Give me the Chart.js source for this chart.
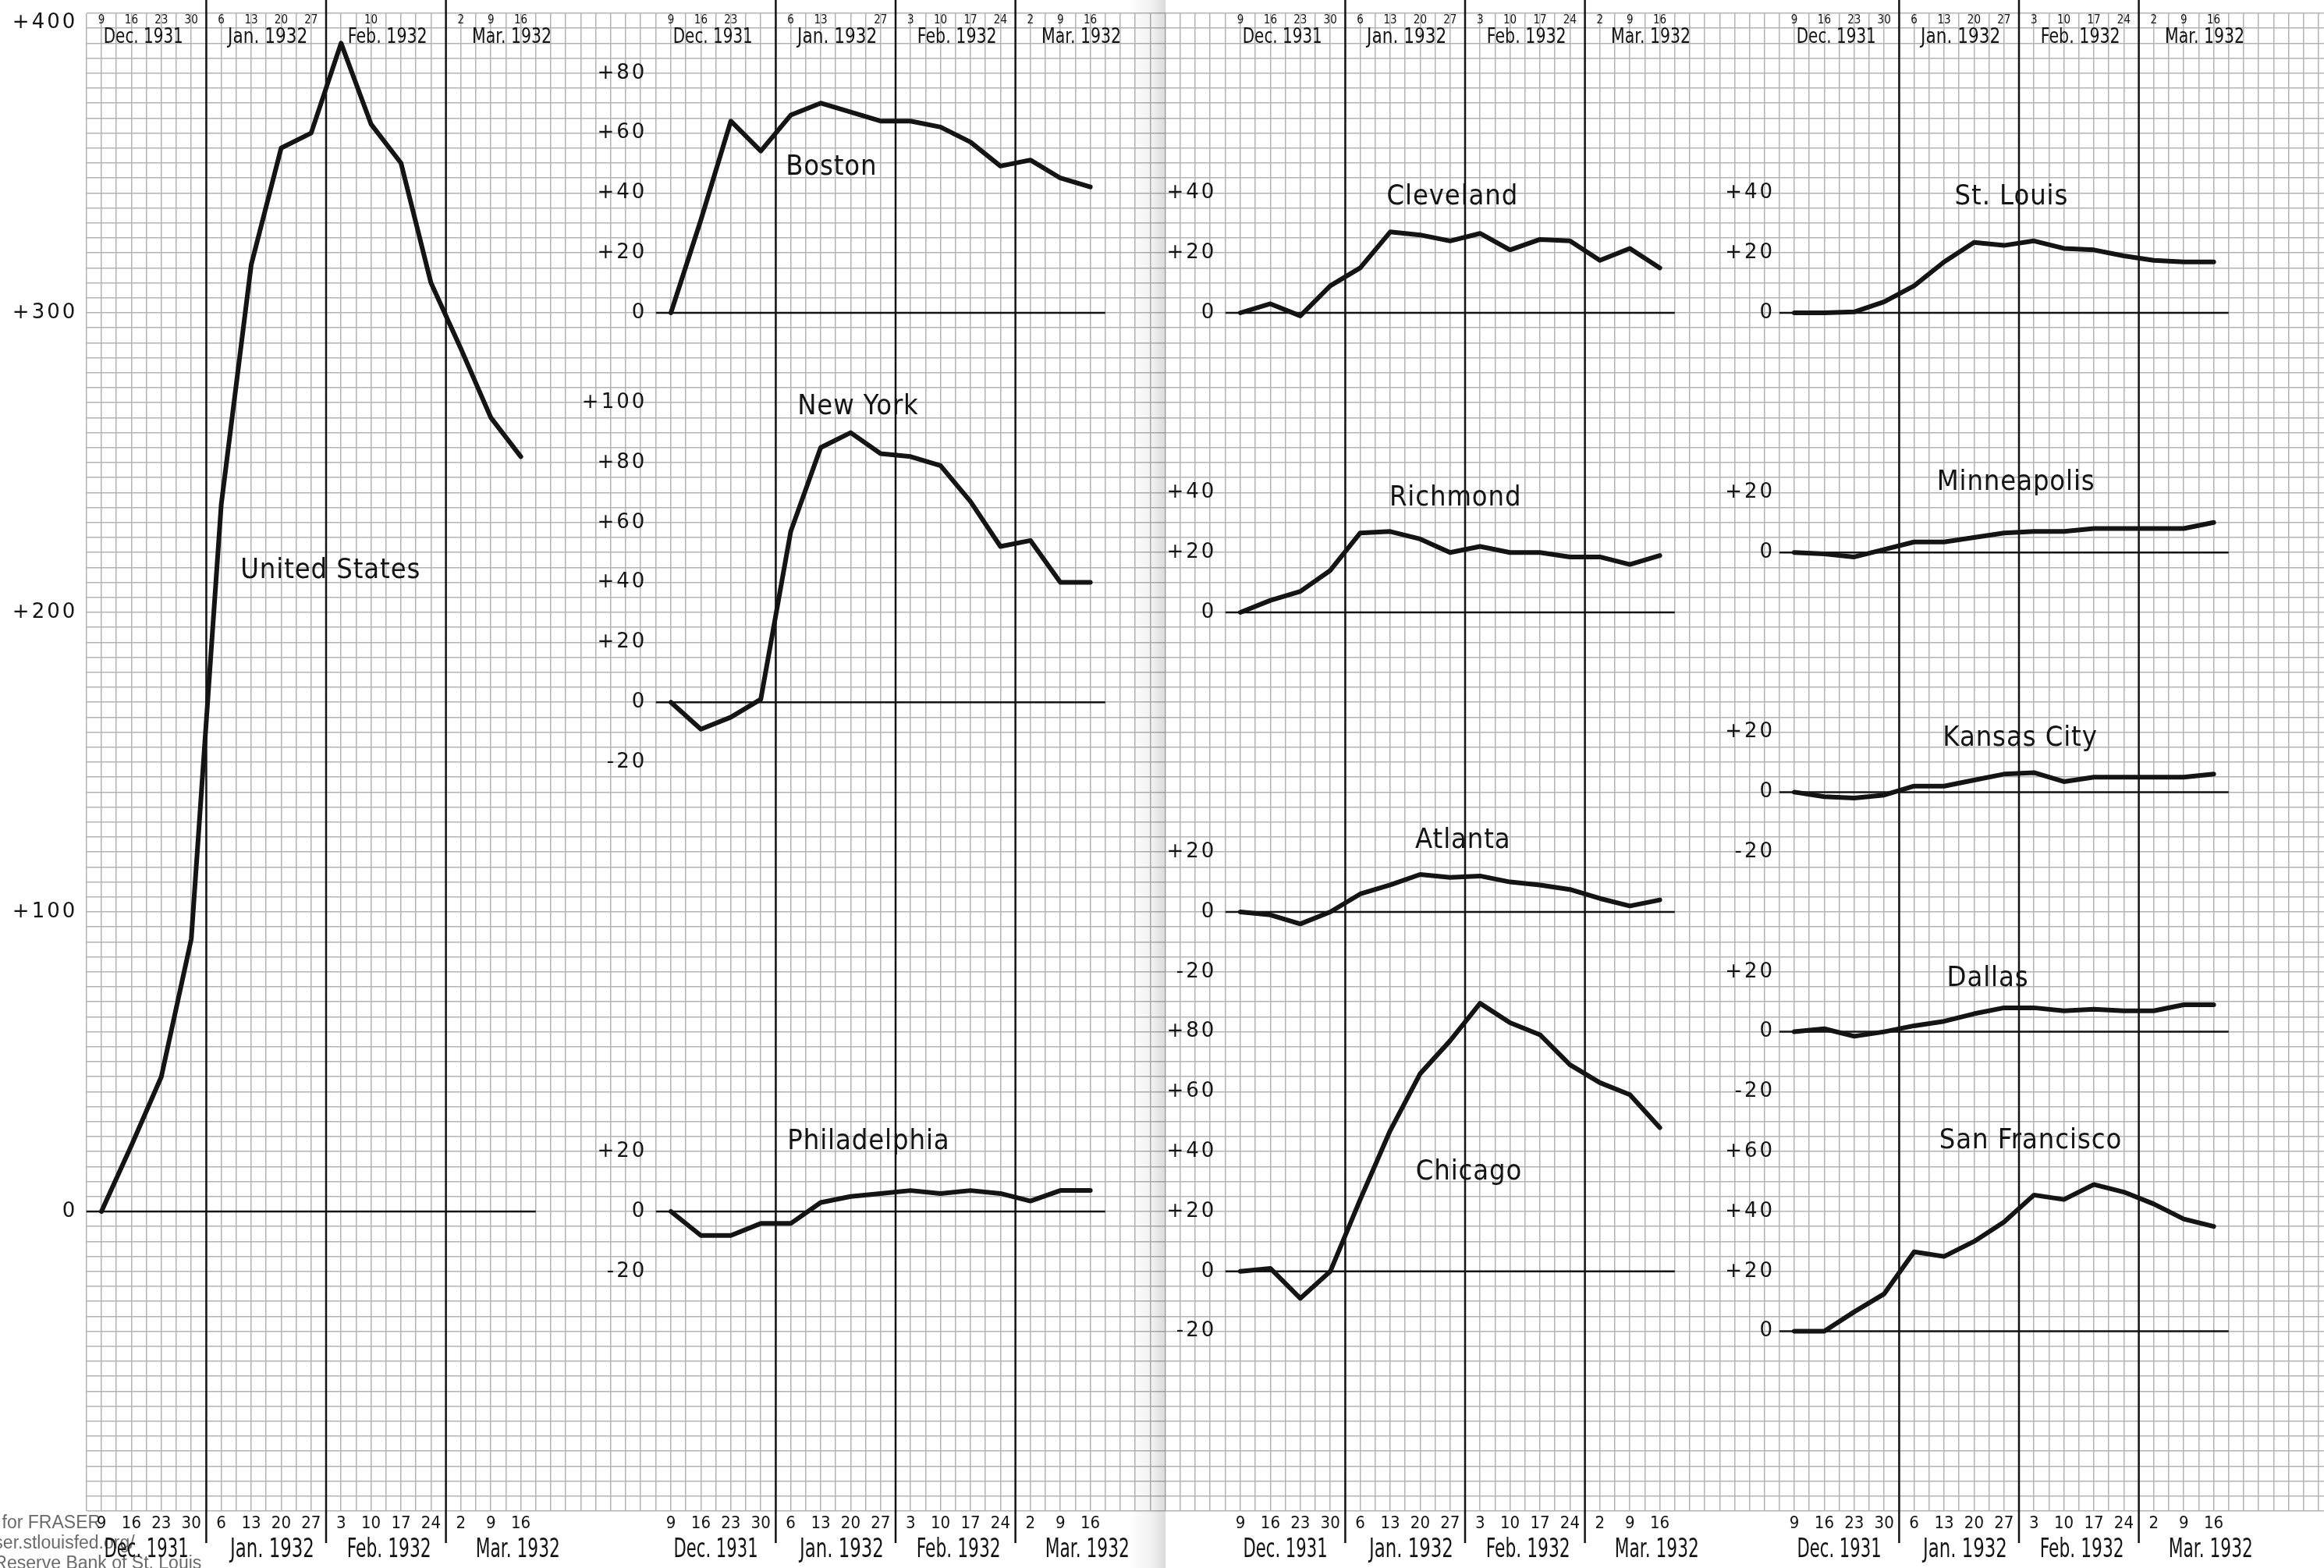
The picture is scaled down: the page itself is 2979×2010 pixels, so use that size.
<!DOCTYPE html>
<html>
<head>
<meta charset="utf-8">
<title>Weekly changes by Federal Reserve district, Dec. 1931 - Mar. 1932</title>
<script src="https://cdn.jsdelivr.net/npm/chart.js@4.4.1/dist/chart.umd.min.js"></script>
<style>
  body { margin: 0; background: #fff; }
  #page { position: relative; width: 2979px; height: 2010px; background: #fff; overflow: hidden; }
  #page canvas { position: absolute; left: 0; top: 0; }
  #fold { position: absolute; left: 1448px; top: 0; width: 46px; height: 2010px; pointer-events: none;
          background: linear-gradient(90deg, rgba(0,0,0,0) 0%, rgba(0,0,0,0.06) 65%, rgba(0,0,0,0.14) 100%); }
</style>
</head>
<body>
<div id="page">
  <canvas id="c1" width="2979" height="2010"></canvas>
  <canvas id="c2" width="2979" height="2010"></canvas>
  <canvas id="c3" width="2979" height="2010"></canvas>
  <canvas id="c4" width="2979" height="2010"></canvas>
  <div id="fold"></div>
</div>
<script>
// ---- data (change from Dec. 9, 1931) ----
const weeks = ['9', '16', '23', '30', '6', '13', '20', '27', '3', '10', '17', '24', '2', '9', '16'];
const months = ['Dec. 1931', 'Jan. 1932', 'Feb. 1932', 'Mar. 1932'];

// the top week rows were only partly lettered on the first two sheets
const topWeeksUS = ['9', '16', '23', '30', '6', '13', '20', '27', '', '10', '', '', '2', '9', '16'];
const topWeeksEast = ['9', '16', '23', '', '6', '13', '', '27', '3', '10', '17', '24', '2', '9', '16'];

const unitedStates = [0, 22, 45, 91, 236, 316, 355, 360, 390, 363, 350, 310, 288, 265, 252];
const boston = [0, 31, 64, 54, 66, 70, 67, 64, 64, 62, 57, 49, 51, 45, 42];
const newYork = [0, -9, -5, 1, 57, 85, 90, 83, 82, 79, 67, 52, 54, 40, 40];
const philadelphia = [0, -8, -8, -4, -4, 3, 5, 6, 7, 6, 7, 6, 3.5, 7, 7];
const cleveland = [0, 3, -1, 9, 15, 27, 26, 24, 26.5, 21, 24.5, 24, 17.5, 21.5, 15];
const richmond = [0, 4, 7, 14, 26.5, 27, 24.5, 20, 22, 20, 20, 18.5, 18.5, 16, 19];
const atlanta = [0, -1, -4, 0, 6, 9, 12.5, 11.5, 12, 10, 9, 7.5, 4.5, 2, 4];
const chicago = [0, 1, -9, 0, 24, 47, 66, 77, 89.5, 83, 79, 69, 63, 59, 48];
const stLouis = [0, 0, 0.3, 3.7, 9, 17, 23.5, 22.5, 24, 21.5, 21, 19, 17.5, 17, 17];
const minneapolis = [0, -0.5, -1.5, 1, 3.5, 3.5, 5, 6.5, 7, 7, 8, 8, 8, 8, 10];
const kansasCity = [0, -1.5, -2, -1, 2, 2, 4, 6, 6.5, 3.5, 5, 5, 5, 5, 6];
const dallas = [0, 1, -1.5, 0, 2, 3.5, 6, 8, 8, 7, 7.5, 7, 7, 9, 9];
const sanFrancisco = [0, 0, 6.5, 12.5, 26.5, 25, 30, 36.5, 45.5, 44, 49, 46.5, 42.5, 37.5, 35];

// tick labels lettered beside each panel
const usTicks = [400, 300, 200, 100, 0];
const bostonTicks = [80, 60, 40, 20, 0];
const newYorkTicks = [100, 80, 60, 40, 20, 0, -20];
const philadelphiaTicks = [20, 0, -20];
const clevelandTicks = [40, 20, 0];
const richmondTicks = [40, 20, 0];
const atlantaTicks = [20, 0, -20];
const chicagoTicks = [80, 60, 40, 20, 0, -20];
const stLouisTicks = [40, 20, 0];
const minneapolisTicks = [20, 0];
const kansasCityTicks = [20, 0, -20];
const dallasTicks = [20, 0, -20];
const sanFranciscoTicks = [60, 40, 20, 0];

// ---- sheet layout ----
const PAGE_W = 2979, PAGE_H = 2010;
const WEEK = 38.4;              // px per week (two squares)
const GRID_TOP = 17, ROWS = 100, ROW = 19.2;
const GRID_BOTTOM = GRID_TOP + ROWS * ROW;
const UNITS_PER_ROW = 5;
const SPAN = ROWS * UNITS_PER_ROW;
const INK = '#141414';
const PAPER_LINE = '#b3b3b3';
const FONT = '"DejaVu Sans", "Noto Sans", sans-serif';
const monthBreaks = [3.5, 7.5, 11.5];
const topMonthAt = [1.4, 5.55, 9.55, 13.7];
const bottomMonthAt = [1.5, 5.7, 9.6, 13.9];
const ZERO_FROM = -0.5, ZERO_TO = 14.5;

const columns = [
  { canvas: 'c1', week0: 130, xMin: -0.5, xMax: 18.51, tickAt: -0.8, topWeeks: topWeeksUS, credit: true,
    panels: [
      { title: 'United States', data: unitedStates, ticks: usTicks, zeroRow: 80, titleAt: [7.65, 214] }
    ] },
  { canvas: 'c2', week0: 860, xMin: -0.49, xMax: 18.51, tickAt: -0.8, topWeeks: topWeeksEast,
    panels: [
      { title: 'Boston', data: boston, ticks: bostonTicks, zeroRow: 20, titleAt: [5.36, 48.6] },
      { title: 'New York', data: newYork, ticks: newYorkTicks, zeroRow: 46, titleAt: [6.25, 98.7] },
      { title: 'Philadelphia', data: philadelphia, ticks: philadelphiaTicks, zeroRow: 80, titleAt: [6.6, 23.3] }
    ] },
  { canvas: 'c3', week0: 1590, xMin: -0.49, xMax: 17.51, tickAt: -0.8, topWeeks: weeks,
    panels: [
      { title: 'Cleveland', data: cleveland, ticks: clevelandTicks, zeroRow: 20, titleAt: [7.08, 38.7] },
      { title: 'Richmond', data: richmond, ticks: richmondTicks, zeroRow: 40, titleAt: [7.18, 38.2] },
      { title: 'Atlanta', data: atlanta, ticks: atlantaTicks, zeroRow: 60, titleAt: [7.43, 23.8] },
      { title: 'Chicago', data: chicago, ticks: chicagoTicks, zeroRow: 84, titleAt: [7.63, 33.2] }
    ] },
  { canvas: 'c4', week0: 2300, xMin: -0.99, xMax: 17.68, tickAt: -0.65, topWeeks: weeks,
    panels: [
      { title: 'St. Louis', data: stLouis, ticks: stLouisTicks, zeroRow: 20, titleAt: [7.25, 38.7] },
      { title: 'Minneapolis', data: minneapolis, ticks: minneapolisTicks, zeroRow: 36, titleAt: [7.4, 23.3] },
      { title: 'Kansas City', data: kansasCity, ticks: kansasCityTicks, zeroRow: 52, titleAt: [7.54, 17.8] },
      { title: 'Dallas', data: dallas, ticks: dallasTicks, zeroRow: 68, titleAt: [6.46, 17.8] },
      { title: 'San Francisco', data: sanFrancisco, ticks: sanFranciscoTicks, zeroRow: 88, titleAt: [7.89, 63.5] }
    ] }
];

// draw text, optionally squeezed to a width (hand lettering is tall and narrow)
function letter(ctx, text, x, y, o) {
  if (!text) return;
  ctx.save();
  ctx.font = o.font;
  ctx.fillStyle = o.color || INK;
  ctx.textBaseline = 'middle';
  ctx.textAlign = 'left';
  ctx.letterSpacing = (o.spacing || 0) + 'px';
  const w = ctx.measureText(text).width;
  const sx = o.width ? o.width / w : (o.scaleX || 1);
  const drawn = w * sx;
  let left = x;
  if (o.align === 'center') left = x - drawn / 2;
  else if (o.align === 'right') left = x - drawn;
  ctx.translate(left, y);
  ctx.scale(sx, 1);
  ctx.fillText(text, 0, 0);
  ctx.restore();
}

function fmtTick(v) {
  return v > 0 ? '+' + v : String(v);
}

function sheetPlugin(col) {
  return {
    id: 'sheet_' + col.canvas,
    beforeDatasetsDraw(chart) {
      const ctx = chart.ctx, x = chart.scales.x;
      ctx.save();
      ctx.strokeStyle = INK;
      ctx.lineWidth = 2.5;
      // month rules, drawn over the paper ruling and carried into the lettering
      monthBreaks.forEach(b => {
        const px = x.getPixelForValue(b);
        ctx.beginPath();
        ctx.moveTo(px, 0);
        ctx.lineTo(px, 1978);
        ctx.stroke();
      });
      // zero line of every panel
      col.panels.forEach((p, i) => {
        const y = chart.scales['p' + i].getPixelForValue(0);
        ctx.beginPath();
        ctx.moveTo(x.getPixelForValue(ZERO_FROM), y);
        ctx.lineTo(x.getPixelForValue(ZERO_TO), y);
        ctx.stroke();
      });
      ctx.restore();
    },
    afterDatasetsDraw(chart) {
      const ctx = chart.ctx, x = chart.scales.x;

      if (col.credit) {
        const credit = ['Digitized for FRASER', 'http://fraser.stlouisfed.org/', 'Federal Reserve Bank of St. Louis'];
        credit.forEach((t, i) => letter(ctx, t, -92, 1953 + i * 26,
          { font: '23px "Liberation Sans", Arial, sans-serif', color: '#6a6a6a' }));
      }

      col.panels.forEach((p, i) => {
        const ys = chart.scales['p' + i];
        p.ticks.forEach(v => {
          const y = Math.max(ys.getPixelForValue(v), GRID_TOP + 12);
          letter(ctx, fmtTick(v), x.getPixelForValue(col.tickAt), y,
            { font: '26px ' + FONT, align: 'right', spacing: 3 });
        });
        letter(ctx, p.title, x.getPixelForValue(p.titleAt[0]), ys.getPixelForValue(p.titleAt[1]),
          { font: '36px ' + FONT, align: 'center', scaleX: 0.9, spacing: 1 });
      });

      // week and month lettering, top and bottom
      weeks.forEach((w, i) => {
        letter(ctx, col.topWeeks[i], x.getPixelForValue(i), 26, { font: '15px ' + FONT, align: 'center', scaleX: 0.9 });
        letter(ctx, w, x.getPixelForValue(i), 1953, { font: '22px ' + FONT, align: 'center', scaleX: 0.9 });
      });
      months.forEach((m, i) => {
        letter(ctx, m, x.getPixelForValue(topMonthAt[i]), 48, { font: '27px ' + FONT, align: 'center', width: 102 });
        letter(ctx, m, x.getPixelForValue(bottomMonthAt[i]), 1987, { font: '34px ' + FONT, align: 'center', width: 108 });
      });
    }
  };
}

function buildColumn(col) {
  const left = col.week0 + col.xMin * WEEK;
  const right = col.week0 + col.xMax * WEEK;
  const scales = {
    x: {
      type: 'linear', position: 'bottom', min: col.xMin, max: col.xMax,
      border: { display: false },
      ticks: { display: false },
      // one rule every half week, counted from whole weeks
      afterBuildTicks: scale => {
        const t = [];
        for (let v = Math.ceil(col.xMin * 2) / 2; v <= col.xMax + 1e-9; v += 0.5) t.push({ value: v });
        scale.ticks = t;
      },
      grid: { drawTicks: false, color: PAPER_LINE, lineWidth: 1.5 }
    },
    paper: {
      type: 'linear', axis: 'y', position: 'left', min: 0, max: ROWS, reverse: true,
      border: { display: false },
      ticks: { display: false },
      afterBuildTicks: scale => {
        const t = [];
        for (let r = 0; r <= ROWS; r++) t.push({ value: r });
        scale.ticks = t;
      },
      grid: { drawTicks: false, color: PAPER_LINE, lineWidth: 1.5 }
    }
  };
  col.panels.forEach((p, i) => {
    const top = p.zeroRow * UNITS_PER_ROW;
    scales['p' + i] = { type: 'linear', axis: 'y', display: false, min: top - SPAN, max: top };
  });

  const datasets = col.panels.map((p, i) => ({
    label: p.title,
    data: p.data.map((v, k) => ({ x: k, y: v })),
    xAxisID: 'x',
    yAxisID: 'p' + i,
    borderColor: INK,
    borderWidth: 6,
    borderJoinStyle: 'round',
    borderCapStyle: 'round',
    pointRadius: 0,
    tension: 0,
    fill: false,
    clip: false
  }));

  return new Chart(document.getElementById(col.canvas), {
    type: 'line',
    data: { datasets },
    options: {
      responsive: false,
      devicePixelRatio: 1,
      animation: false,
      events: [],
      layout: {
        autoPadding: false,
        padding: { left: left, right: PAGE_W - right, top: GRID_TOP, bottom: PAGE_H - GRID_BOTTOM }
      },
      plugins: { legend: { display: false }, tooltip: { enabled: false } },
      scales
    },
    plugins: [sheetPlugin(col)]
  });
}

columns.forEach(buildColumn);
</script>
</body>
</html>
